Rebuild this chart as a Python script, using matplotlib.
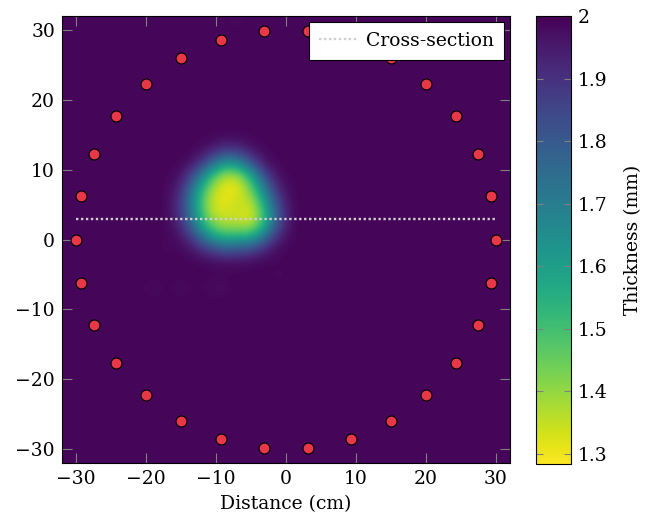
import numpy as np
import matplotlib
matplotlib.use("Agg")
from matplotlib import pyplot as plt

plt.rcParams['font.family'] = ['DejaVu Serif']
plt.rcParams['mathtext.fontset'] = 'dejavuserif'

# sensor positions around the ring (cm)
sensor_x = [30.0, 29.34, 27.41, 24.27, 20.07, 15.0, 9.27, 3.14,
            -3.14, -9.27, -15.0, -20.07, -24.27, -27.41, -29.34,
            -30.0, -29.34, -27.41, -24.27, -20.07, -15.0, -9.27, -3.14,
            3.14, 9.27, 15.0, 20.07, 24.27, 27.41, 29.34]
sensor_y = [0.0, 6.24, 12.2, 17.63, 22.29, 25.98, 28.53, 29.84,
            29.84, 28.53, 25.98, 22.29, 17.63, 12.2, 6.24,
            0.0, -6.24, -12.2, -17.63, -22.29, -25.98, -28.53, -29.84,
            -29.84, -28.53, -25.98, -22.29, -17.63, -12.2, -6.24]

# cross-section line
cut_x = [-30, 30]
cut_y = [3, 3]

# reconstructed thickness (mm) on a 2 cm grid, -32..32 cm
nominal = 1.99
# thinned region, cell centres x = -17..1, y = 15..-3 (rows top to bottom)
blob_x = [-17, -15, -13, -11, -9, -7, -5, -3, -1, 1]
blob_y = [15, 13, 11, 9, 7, 5, 3, 1, -1, -3]
blob = [
    [1.99, 1.99, 1.99, 1.99, 1.99, 1.99, 1.99, 1.99, 1.99, 1.99],
    [1.99, 1.99, 1.99, 1.97, 1.92, 1.92, 1.97, 1.99, 1.99, 1.99],
    [1.99, 1.99, 1.96, 1.82, 1.65, 1.66, 1.84, 1.97, 1.99, 1.99],
    [1.99, 1.97, 1.80, 1.55, 1.36, 1.35, 1.55, 1.85, 1.98, 1.99],
    [1.99, 1.91, 1.66, 1.40, 1.30, 1.30, 1.42, 1.70, 1.93, 1.99],
    [1.99, 1.88, 1.62, 1.36, 1.30, 1.36, 1.33, 1.58, 1.87, 1.99],
    [1.99, 1.90, 1.65, 1.40, 1.34, 1.34, 1.30, 1.50, 1.83, 1.99],
    [1.99, 1.95, 1.78, 1.56, 1.45, 1.46, 1.46, 1.65, 1.91, 1.99],
    [1.99, 1.99, 1.93, 1.82, 1.74, 1.76, 1.78, 1.90, 1.98, 1.99],
    [1.99, 1.99, 1.99, 1.98, 1.97, 1.97, 1.98, 1.99, 1.99, 1.99],
]
# small artefacts elsewhere
spot_x = [-19, -15, -11, -9, -1, -17, -7, 25]
spot_y = [-7, -7, -7, -7, -5, -1, 31, 27]
spot_val = [1.975, 1.975, 1.98, 1.975, 1.98, 1.98, 1.98, 1.985]

vmin, vmax = 1.284, 2.0

grid = np.full((32, 32), nominal)
def cell(x, y):
    return int((y + 32) // 2), int((x + 32) // 2)
for i, yy in enumerate(blob_y):
    for j, xx in enumerate(blob_x):
        grid[cell(xx, yy)] = blob[i][j]
for xx, yy, v in zip(spot_x, spot_y, spot_val):
    grid[cell(xx, yy)] = v

fig = plt.figure(figsize=(6.59, 5.23), dpi=100)
ax = fig.add_axes([0.0941, 0.1147, 0.6798, 0.8547])
cax = fig.add_axes([0.8134, 0.1128, 0.0531, 0.8566])

im = ax.imshow(grid, origin='lower', extent=[-32, 32, -32, 32], cmap='viridis_r',
               vmin=vmin, vmax=vmax, interpolation='bicubic', aspect='auto')

ax.plot(cut_x, cut_y, color='#cfcfcf', lw=1.7, linestyle=(0, (1, 1.1)),
        label='Cross-section')
ax.scatter(sensor_x, sensor_y, s=62, c='#e83848', edgecolors='black',
           linewidths=0.8, zorder=3)

ax.set_xlim(-32, 32)
ax.set_ylim(-32, 32)
ax.set_xticks([-30, -20, -10, 0, 10, 20, 30])
ax.set_yticks([-30, -20, -10, 0, 10, 20, 30])
ax.tick_params(direction='in', top=True, right=True, length=7, width=0.8,
               color='#808080', labelsize=13.5, pad=5)
ax.set_xlabel('Distance (cm)', fontsize=13.5, labelpad=5)
for s in ax.spines.values():
    s.set_linewidth(0.8)

leg = ax.legend(loc='upper right', fontsize=13.5, fancybox=False, framealpha=1,
                edgecolor='black', handlelength=2.0, borderaxespad=0.3,
                borderpad=0.55, handletextpad=0.5)
leg.get_frame().set_linewidth(0.8)

cb = fig.colorbar(im, cax=cax)
cb.set_ticks([1.3, 1.4, 1.5, 1.6, 1.7, 1.8, 1.9, 2.0])
cb.set_ticklabels(['1.3', '1.4', '1.5', '1.6', '1.7', '1.8', '1.9', '2'])
cb.ax.tick_params(direction='in', left=True, right=True, length=5, width=0.8,
                  color='#808080', labelsize=13.5, pad=5)
cb.outline.set_linewidth(0.8)
cb.set_label('Thickness (mm)', fontsize=13.5, labelpad=12)

fig.savefig('out.png', dpi=100)
